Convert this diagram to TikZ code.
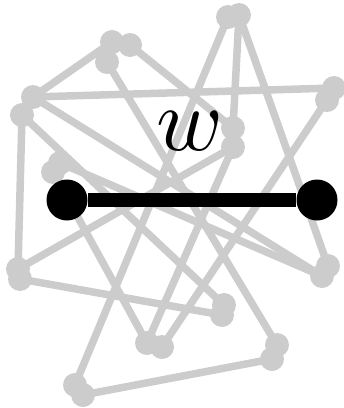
\documentclass[tikz,border=0pt]{standalone}
\usepackage{xcolor}
\definecolor{palegray}{RGB}{204,204,204}
\tikzset{
  vtx/.style={circle, fill=palegray, inner sep=0pt, minimum size=24pt},
  link/.style={draw=palegray, line width=7.5pt},
  endv/.style={circle, fill=black, inner sep=0pt, minimum size=41pt},
  wedge/.style={draw=black, line width=14pt}
}
\begin{document}
\begin{tikzpicture}[x=1pt, y=-1pt]
        \useasboundingbox (0,0) rectangle (344,408);
        % gray vertices, each drawn as a close pair
        \node[vtx] (a1) at (228,17) {};
        \node[vtx] (a2) at (239,15) {};
        \node[vtx] (b1) at (112,42) {};
        \node[vtx] (b2) at (130,45) {};
        \node[vtx] (b3) at (107,62) {};
        \node[vtx] (c1) at (33,97) {};
        \node[vtx] (c2) at (22,115) {};
        \node[vtx] (d1) at (334,88) {};
        \node[vtx] (d2) at (327,100) {};
        \node[vtx] (e1) at (233,128) {};
        \node[vtx] (e2) at (233,147) {};
        \node[vtx] (f1) at (60,163) {};
        \node[vtx] (f2) at (53,172) {};
        \node[vtx] (g1) at (18,269) {};
        \node[vtx] (g2) at (20,279) {};
        \node[vtx] (h1) at (328,266) {};
        \node[vtx] (h2) at (322,276) {};
        \node[vtx] (i1) at (224,305) {};
        \node[vtx] (i2) at (222,315) {};
        \node[vtx] (j1) at (147,343) {};
        \node[vtx] (j2) at (162,347) {};
        \node[vtx] (k1) at (277,345) {};
        \node[vtx] (k2) at (272,359) {};
        \node[vtx] (l1) at (75,385) {};
        \node[vtx] (l2) at (83,395) {};

        % gray edges
        \draw[link] (a1.center) -- (l1.center);
        \draw[link] (a2.center) -- (e1.center);
        \draw[link] (a2.center) -- (h1.center);
        \draw[link] (b1.center) -- (c1.center);
        \draw[link] (b2.center) -- (e1.center);
        \draw[link] (b3.center) -- (k1.center);
        \draw[link] (c1.center) -- (d1.center);
        \draw[link] (c1.center) -- (h2.center);
        \draw[link] (c2.center) -- (g1.center);
        \draw[link] (c2.center) -- (i1.center);
        \draw[link] (d2.center) -- (j2.center);
        \draw[link] (e2.center) -- (j1.center);
        \draw[link] (e2.center) -- (g1.center);
        \draw[link] (f1.center) -- (h2.center);
        \draw[link] (f2.center) -- (j1.center);
        \draw[link] (g2.center) -- (i2.center);
        \draw[link] (k2.center) -- (l2.center);

        % the edge w
        \node[endv] (p) at (67,200) {};
        \node[endv] (q) at (317,200) {};
        \draw[wedge] (p) -- (q);
        \node[scale=9] (lbl) at (190,131) {$w$};
\end{tikzpicture}
\end{document}
